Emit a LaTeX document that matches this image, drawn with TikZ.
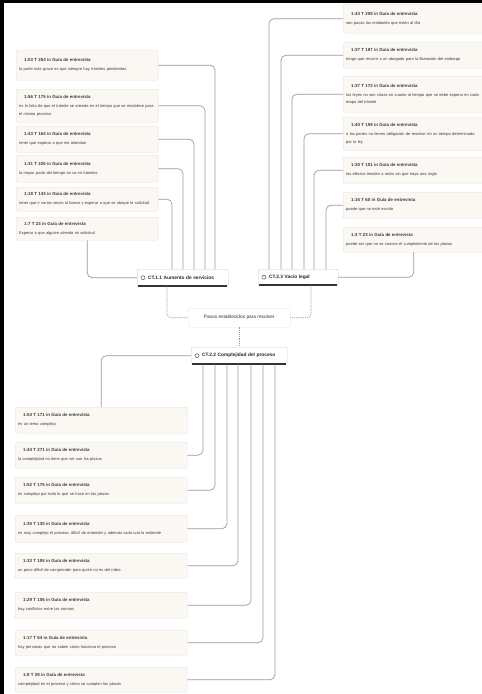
\documentclass[tikz,border=0pt]{standalone}
\usepackage{fontspec}
\setmainfont{Liberation Sans}
\usetikzlibrary{calc}
\definecolor{boxfill}{HTML}{FBF8F4}
\definecolor{boxline}{HTML}{E4E1DC}
\definecolor{conncol}{HTML}{9A9A9A}
\definecolor{txt}{HTML}{3A3A3A}
\tikzset{
 qbox/.style={draw=boxline, fill=boxfill, rounded corners=1.5pt, line width=0.4pt, anchor=north west, align=left, inner xsep=3pt, inner ysep=2pt, text=txt, font=\fontsize{4.0}{7.5}\selectfont},
 ctnode/.style={draw=gray!40, fill=white, rounded corners=2pt, line width=0.4pt, anchor=north west, align=left, font=\fontsize{4.8}{6}\selectfont\bfseries, text=black!85, inner xsep=3pt},
 link/.style={draw=conncol, line width=0.7pt, rounded corners=5pt},
 dlink/.style={draw=conncol, line width=0.6pt, dash pattern=on 1.2pt off 1pt, rounded corners=4pt},
 ctbar/.style={line width=1.6pt, draw=black!80},
 cticon/.style={draw=black!65, line width=0.5pt},
}
\newcommand{\qb}[7]{%
 \node[qbox, minimum width=#4pt, minimum height=#5pt, text width=\dimexpr#4pt-6pt\relax] (#1) at (#2,#3) {\hspace*{5pt}{\fontsize{4.4}{5}\selectfont\bfseries #6}\\[1.5pt]#7};}
\begin{document}
\begin{tikzpicture}[x=1pt,y=-1pt]
\useasboundingbox (0,0) rectangle (482,694);
\fill[white] (0,0) rectangle (482,694);
\fill[black] (0,0) rectangle (482,3);
\fill[black] (0,0) rectangle (4,694);
% left group
\qb{l1}{16}{50}{142}{30}{1:03 T 204 in Guía de entrevista}{la parte más grave es que siempre hay trámites pendientes}
\qb{l2}{16}{89}{142}{33}{1:56 T 175 in Guía de entrevista}{es la falta de que el trámite se atienda en el tiempo que se establece para el mismo proceso}
\qb{l3}{16}{126}{142}{26}{1:43 T 164 in Guía de entrevista}{tener que esperar a que me atiendan}
\qb{l4}{16}{155}{142}{27}{1:31 T 226 in Guía de entrevista}{la mayor parte del tiempo se va en trámites}
\qb{l5}{16}{187}{142}{24}{1:18 T 143 in Guía de entrevista}{tener que ir varias veces al banco y esperar a que se ubique la solicitud}
\qb{l6}{16}{217}{142}{23}{1:7 T 23 in Guía de entrevista}{Esperar a que alguien atienda mi solicitud}
% right group
\qb{r1}{343}{4}{141}{29}{1:43 T 208 in Guía de entrevista}{son pocas las entidades que están al día}
\qb{r2}{343}{42}{141}{26}{1:37 T 187 in Guía de entrevista}{tengo que recurrir a un abogado para la liberación del embargo}
\qb{r3}{343}{76}{141}{36}{1:37 T 172 in Guía de entrevista}{las leyes no son claras en cuanto al tiempo que se debe esperar en cada etapa del trámite}
\qb{r4}{343}{117}{141}{33}{1:40 T 159 in Guía de entrevista}{a las partes no tienen obligación de resolver en un tiempo determinado por la ley}
\qb{r5}{343}{157}{141}{26}{1:30 T 101 in Guía de entrevista}{los efectos tienden a rodar sin que haya una regla}
\qb{r6}{343}{192}{141}{26}{1:16 T 60 in Guía de entrevista}{puede que no esté escrito}
\qb{r7}{343}{227}{141}{25}{1:3 T 23 in Guía de entrevista}{puede ser que no se conoce el cumplimiento de los plazos}
% bottom group
\qb{b1}{15}{407}{172}{26}{1:54 T 171 in Guía de entrevista}{es un tema complejo}
\qb{b2}{15}{442}{172}{26}{1:44 T 271 in Guía de entrevista}{la complejidad no tiene que ver con los plazos}
\qb{b3}{15}{477}{172}{26}{1:52 T 175 in Guía de entrevista}{es complejo por todo lo que se hace en los plazos}
\qb{b4}{15}{515}{172}{27}{1:35 T 130 in Guía de entrevista}{es muy complejo el proceso, difícil de entender y además cada uno lo entiende}
\qb{b5}{15}{553}{172}{25}{1:33 T 106 in Guía de entrevista}{un poco difícil de comprender para quien no es del rubro}
\qb{b6}{15}{592}{172}{26}{1:29 T 106 in Guía de entrevista}{hay conflictos entre las normas}
\qb{b7}{15}{630}{172}{25}{1:17 T 64 in Guía de entrevista}{hay personas que no saben cómo funciona el proceso}
\qb{b8}{15}{667}{172}{25}{1:8 T 28 in Guía de entrevista}{complejidad en el proceso y cómo se cumplen los plazos}
% centre nodes
\node[ctnode, minimum width=91pt, minimum height=17pt, text width=85pt] (c1) at (137,269) {\hspace*{8pt}CT.1.1 Aumento de servicios};
\node[ctnode, minimum width=80pt, minimum height=16pt, text width=74pt] (c2) at (258,269) {\hspace*{8pt}CT.2.3 Vacío legal};
\node[draw=gray!20, fill=white, rounded corners=2pt, line width=0.4pt, anchor=north west, minimum width=102pt, minimum height=19pt, font=\fontsize{4.8}{6}\selectfont, text=black!80] (m) at (188,308) {Pasos establecidos para resolver};
\node[ctnode, minimum width=96pt, minimum height=17pt, text width=90pt] (c3) at (191,347) {\hspace*{8pt}CT.2.2 Complejidad del proceso};
\foreach \n in {c1,c2,c3}{
 \draw[ctbar] ($(\n.south west)+(1,-0.6)$) -- ($(\n.south east)+(-1,-0.6)$);
 \draw[cticon] ($(\n.west)+(6,0)$) circle (2pt);
}
% connectors left
\draw[link] (l1.east) -| ($(c1.north west)+(78,0)$);
\draw[link] (l2.east) -| ($(c1.north west)+(68,0)$);
\draw[link] (l3.east) -| ($(c1.north west)+(57,0)$);
\draw[link] (l4.east) -| ($(c1.north west)+(46,0)$);
\draw[link] (l5.east) -| ($(c1.north west)+(35,0)$);
\draw[link] (l6.south) |- (c1.west);
% connectors right
\draw[link] (r1.west) -| ($(c2.north west)+(11,0)$);
\draw[link] (r2.west) -| ($(c2.north west)+(23,0)$);
\draw[link] (r3.west) -| ($(c2.north west)+(34,0)$);
\draw[link] (r4.west) -| ($(c2.north west)+(46,0)$);
\draw[link] (r5.west) -| ($(c2.north west)+(56,0)$);
\draw[link] (r6.west) -| ($(c2.north west)+(68,0)$);
\draw[link] (r7.south) |- (c2.east);
% connectors bottom
\draw[link] (b1.north) |- (c3.west);
\draw[link] (b2.east) -| ($(c3.south west)+(12,0)$);
\draw[link] (b3.east) -| ($(c3.south west)+(24,0)$);
\draw[link] (b4.east) -| ($(c3.south west)+(36,0)$);
\draw[link] (b5.east) -| ($(c3.south west)+(47,0)$);
\draw[link] (b6.east) -| ($(c3.south west)+(60,0)$);
\draw[link] (b7.east) -| ($(c3.south west)+(72,0)$);
\draw[link] (b8.east) -| ($(c3.south west)+(84,0)$);
% dashed
\draw[dlink] ($(c1.south west)+(30,0)$) |- (m.west);
\draw[dlink] ($(c2.south west)+(53,0)$) |- (m.east);
\draw[dlink] (m.south) -- (c3.north);
\end{tikzpicture}
\end{document}
